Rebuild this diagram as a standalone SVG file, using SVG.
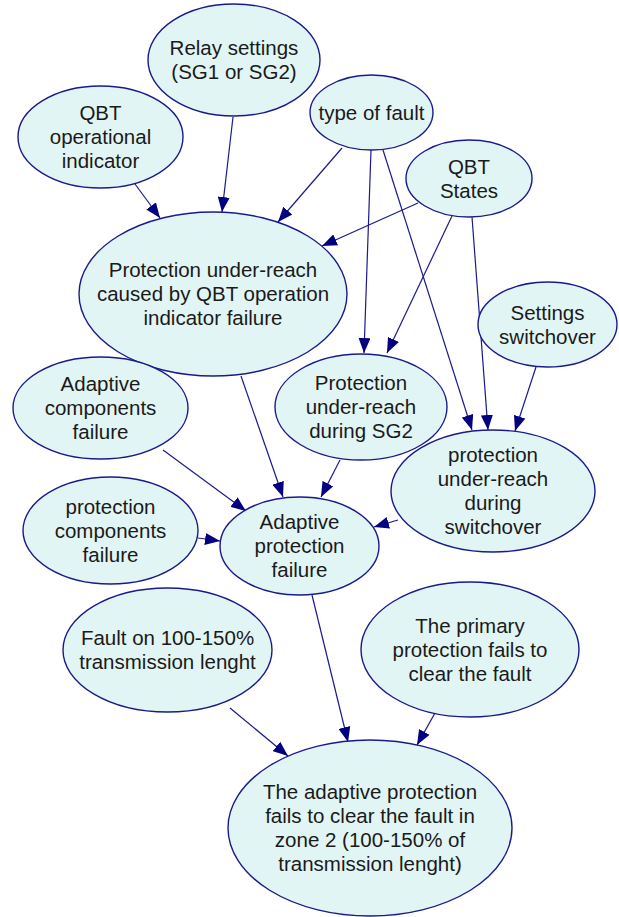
<svg xmlns="http://www.w3.org/2000/svg" width="619" height="917" viewBox="0 0 619 917">
<style>
.n ellipse{fill:#e2f5f5;stroke:#1a1a8c;stroke-width:1.4}
.n text{font-family:"Liberation Sans",Arial,sans-serif;font-size:20.5px;fill:#1a1a1a;text-anchor:middle}
.e line{stroke:#1a1a8c;stroke-width:1.2;marker-end:url(#ah)}
</style>
<defs>
<marker id="ah" markerUnits="userSpaceOnUse" markerWidth="16" markerHeight="12" refX="15" refY="6" orient="auto">
<path d="M0,0 L15,6 L0,12 z" fill="#000080"/>
</marker>
</defs>
<rect width="619" height="917" fill="#ffffff"/>
<g class="e" id="edges">
<line x1="135" y1="184" x2="160" y2="218"/>
<line x1="233" y1="117" x2="222" y2="212"/>
<line x1="342" y1="148" x2="278" y2="222"/>
<line x1="418" y1="203" x2="322" y2="246"/>
<line x1="371" y1="150" x2="364" y2="353"/>
<line x1="452" y1="216" x2="387" y2="353"/>
<line x1="383" y1="150" x2="472" y2="430"/>
<line x1="472" y1="217" x2="488" y2="430"/>
<line x1="536" y1="367" x2="515" y2="431"/>
<line x1="241" y1="376" x2="283" y2="497"/>
<line x1="340" y1="460" x2="321" y2="497"/>
<line x1="398" y1="520" x2="374" y2="527"/>
<line x1="163" y1="450" x2="246" y2="511"/>
<line x1="198" y1="538" x2="220" y2="541"/>
<line x1="312" y1="595" x2="348" y2="742"/>
<line x1="230" y1="708" x2="288" y2="756"/>
<line x1="435" y1="713" x2="417" y2="745"/>
</g>
<g class="n" id="relay_settings"><ellipse cx="234" cy="60" rx="86" ry="56"/><text x="234" y="55">Relay settings</text><text x="234" y="79">(SG1 or SG2)</text></g>
<g class="n" id="qbt_operational_indicator"><ellipse cx="100.5" cy="137" rx="82.5" ry="51"/><text x="100.5" y="120">QBT</text><text x="100.5" y="144">operational</text><text x="100.5" y="168">indicator</text></g>
<g class="n" id="type_of_fault"><ellipse cx="371.5" cy="112.5" rx="61.5" ry="37.5"/><text x="371.5" y="119.5">type of fault</text></g>
<g class="n" id="qbt_states"><ellipse cx="469" cy="178.5" rx="63" ry="38.5"/><text x="469" y="173.5">QBT</text><text x="469" y="197.5">States</text></g>
<g class="n" id="pur_qbt"><ellipse cx="213" cy="294" rx="134" ry="82"/><text x="213" y="277">Protection under-reach</text><text x="213" y="301">caused by QBT operation</text><text x="213" y="325">indicator failure</text></g>
<g class="n" id="settings_switchover"><ellipse cx="547.5" cy="324.5" rx="69.5" ry="42.5"/><text x="547.5" y="319.5">Settings</text><text x="547.5" y="343.5">switchover</text></g>
<g class="n" id="adaptive_components_failure"><ellipse cx="100.5" cy="408" rx="87.5" ry="51"/><text x="100.5" y="391">Adaptive</text><text x="100.5" y="415">components</text><text x="100.5" y="439">failure</text></g>
<g class="n" id="pur_sg2"><ellipse cx="361" cy="407" rx="86" ry="53"/><text x="361" y="390">Protection</text><text x="361" y="414">under-reach</text><text x="361" y="438">during SG2</text></g>
<g class="n" id="pur_switchover"><ellipse cx="493" cy="491" rx="102" ry="61"/><text x="493" y="462">protection</text><text x="493" y="486">under-reach</text><text x="493" y="510">during</text><text x="493" y="534">switchover</text></g>
<g class="n" id="protection_components_failure"><ellipse cx="110.5" cy="530.5" rx="87.5" ry="53.5"/><text x="110.5" y="513.5">protection</text><text x="110.5" y="537.5">components</text><text x="110.5" y="561.5">failure</text></g>
<g class="n" id="adaptive_protection_failure"><ellipse cx="299.5" cy="546" rx="79.5" ry="49"/><text x="299.5" y="529">Adaptive</text><text x="299.5" y="553">protection</text><text x="299.5" y="577">failure</text></g>
<g class="n" id="fault_100_150"><ellipse cx="167.5" cy="650" rx="104.5" ry="62"/><text x="167.5" y="645">Fault on 100-150%</text><text x="167.5" y="669">transmission lenght</text></g>
<g class="n" id="primary_protection_fails"><ellipse cx="470" cy="649.5" rx="109" ry="67.5"/><text x="470" y="632.5">The primary</text><text x="470" y="656.5">protection fails to</text><text x="470" y="680.5">clear the fault</text></g>
<g class="n" id="adaptive_protection_fails_zone2"><ellipse cx="370" cy="828" rx="142" ry="88"/><text x="370" y="799">The adaptive protection</text><text x="370" y="823">fails to clear the fault in</text><text x="370" y="847">zone 2 (100-150% of</text><text x="370" y="871">transmission lenght)</text></g>
</svg>
